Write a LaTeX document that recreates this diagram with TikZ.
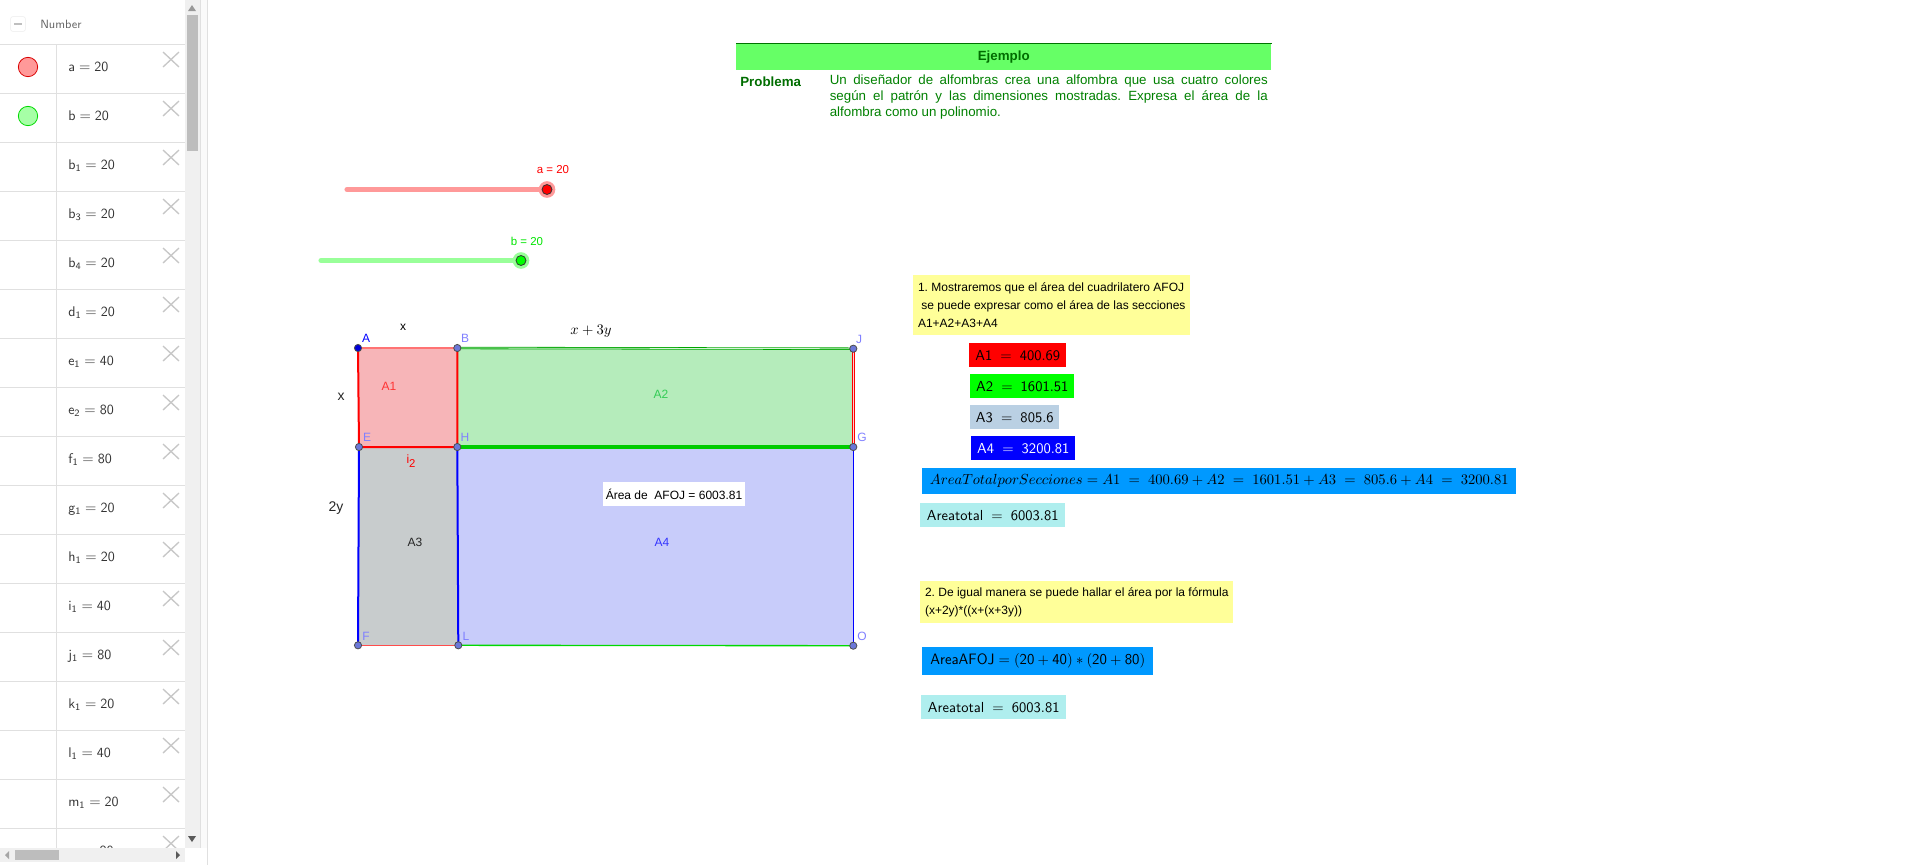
\documentclass[tikz,border=0pt]{standalone}
\usepackage{amsmath,amssymb}
\usepackage{fontspec}
\usepackage{tikz}
\usetikzlibrary{calc}
\newfontfamily\arialfont{Liberation Sans}
\newcommand{\sfeq}[2]{$\mathsf{#1}\;=\;\mathsf{#2}$}
\definecolor{bandgreen}{HTML}{66FF66}
\definecolor{textgreen}{HTML}{008000}
\definecolor{notecol}{HTML}{FFFF99}
\definecolor{skycol}{HTML}{0099FF}
\definecolor{palecol}{HTML}{AFEEEE}
\definecolor{rowline}{HTML}{E0E0E0}
\definecolor{fillone}{HTML}{F7B5B8}
\definecolor{filltwo}{HTML}{B5ECBB}
\definecolor{fillthree}{HTML}{C8CCCD}
\definecolor{fillfour}{HTML}{C8CCFA}
\definecolor{ptcol}{HTML}{6C78D8}
\definecolor{areagreen}{HTML}{33CC55}
\tikzset{
	pt/.style = {circle, draw=black!70, fill=ptcol, line width=0.6pt, minimum size=5.4pt, inner sep=0pt},
	ptname/.style = {font=\arialfont\fontsize{9}{11}\selectfont, text=blue!50!white, inner sep=0pt},
	geotext/.style = {font=\arialfont\fontsize{9}{11}\selectfont, inner sep=0pt},
	rowtext/.style = {font=\sffamily\fontsize{10.5}{12}\selectfont, text=black!80, anchor=base west, inner sep=0pt},
	valbox/.style 2 args = {minimum width=#1*0.75pt, minimum height=#2*0.75pt, anchor=north west, inner sep=0pt, font=\sffamily\fontsize{10.9}{13}\selectfont},
	notebox/.style = {align=left, font=\arialfont\frenchspacing\fontsize{9}{13.5}\selectfont},
	cross/.style = {draw=black!22, line width=1pt},
	slider/.style = {line width=3.8pt, line cap=round}
}
\begin{document}
\begin{tikzpicture}[x=0.75pt, y=-0.75pt]
	\useasboundingbox (0,0) rectangle (1910,865);
	% left panel
	\fill[black!6] (185,0) rectangle (200,848);
	\fill[black!2] (200,0) rectangle (207,865);
	\draw[rowline] (200,0) -- (200,865) (207,0) -- (207,865);
	\node[draw=black!8, rounded corners=1.5pt, minimum size=11pt, inner sep=0pt] (minusbox) at (18,24) {};
	\draw[black!25, line width=1pt] ($(minusbox)+(-4,0)$) -- ($(minusbox)+(4,0)$);
	\node[font=\sffamily\fontsize{9}{11}\selectfont, text=black!60, anchor=west, inner sep=0pt] (numberhead) at (40,24) {Number};
	\foreach \name/\val [count=\i from 0] in {a/20,b/20,b_1/20,b_3/20,b_4/20,d_1/20,e_1/40,e_2/80,f_1/80,g_1/20,h_1/20,i_1/40,j_1/80,k_1/20,l_1/40,m_1/20}{
		\draw[rowline] (0,44+49*\i) -- (185,44+49*\i);
		\draw[rowline] (56.5,44+49*\i) -- (56.5,93+49*\i);
		\node[rowtext] (row\i) at (68,71+49*\i) {$\mathsf{\name} = \mathsf{\val}$};
		\draw[cross] (163,52+49*\i) -- (179,67+49*\i) (179,52+49*\i) -- (163,67+49*\i);
	}
	\draw[rowline] (0,828) -- (185,828) (56.5,828) -- (56.5,848);
	\node[rowtext] (rowlast) at (84,855) {$=\mathsf{80}$};
	\draw[cross] (163,836) -- (179,851) (179,836) -- (163,851);
	\node[circle, draw=red!85!black, fill=red!40, line width=0.6pt, minimum size=14.5pt, inner sep=0pt] (dota) at (28,67) {};
	\node[circle, draw=green!85!black, fill=green!35, line width=0.6pt, minimum size=14.5pt, inner sep=0pt] (dotb) at (28,116) {};
	% scroll bars
	\fill[white] (0,848) rectangle (207,865);
	\fill[black!6] (0,848) rectangle (185,862);
	\fill[black!26] (187,15) rectangle (198,151);
	\fill[black!26] (15,850) rectangle (59,860);
	\fill[black!40] (188,11) -- (196,11) -- (192,5) -- cycle;
	\fill[black!65] (188,836) -- (196,836) -- (192,842) -- cycle;
	\fill[black!35] (9,851) -- (9,859) -- (5,855) -- cycle;
	\fill[black!65] (176,851) -- (176,859) -- (180,855) -- cycle;
	% problem
	\node[fill=bandgreen, minimum width=535*0.75pt, minimum height=26*0.75pt, anchor=north west, inner sep=0pt, text=textgreen!85!black, font=\arialfont\bfseries\fontsize{10}{12}\selectfont] (band) at (736,43.5) {Ejemplo};
	\draw[green!45!black, line width=0.8pt] (band.north west) -- (band.north east);
	\node[anchor=base west, inner sep=0pt, text=textgreen!85!black, font=\arialfont\bfseries\fontsize{10}{12}\selectfont] (problema) at (740,86) {Problema};
	\node[anchor=north west, inner sep=0pt, text width=438*0.75pt, align=justify, text=textgreen, font=\arialfont\frenchspacing\fontsize{10}{11.7}\selectfont] (enunciado) at (829.5,75) {Un diseñador de alfombras crea una alfombra que usa cuatro colores\linebreak según el patrón y las dimensiones mostradas. Expresa el área de la\linebreak alfombra como un polinomio.};
	% sliders
	\coordinate (astart) at (347,189.5);
	\coordinate (aend) at (547,189.5);
	\coordinate (bstart) at (321,260.5);
	\coordinate (bend) at (521,260.5);
	\draw[slider, red!40] (astart) -- (aend);
	\draw[slider, green!40] (bstart) -- (bend);
	\node[circle, fill=red!40, minimum size=12.5pt, inner sep=0pt] (ahalo) at (aend) {};
	\node[circle, draw=black!80, fill=red, line width=0.6pt, minimum size=7.5pt, inner sep=0pt] (ahandle) at (aend) {};
	\node[circle, fill=green!40, minimum size=12.5pt, inner sep=0pt] (bhalo) at (bend) {};
	\node[circle, draw=black!80, fill=green, line width=0.6pt, minimum size=7.5pt, inner sep=0pt] (bhandle) at (bend) {};
	\node[geotext, text=red, font=\arialfont\fontsize{8.6}{10}\selectfont] (alabel) at (553,170) {a = 20};
	\node[geotext, text=green!90!black, font=\arialfont\fontsize{8.6}{10}\selectfont] (blabel) at (527,241) {b = 20};
	% rectangle
	\coordinate (A) at (358,348);
	\coordinate (B) at (457.3,348);
	\coordinate (J) at (853.3,348.7);
	\coordinate (E) at (359,447);
	\coordinate (H) at (457.3,447);
	\coordinate (G) at (853.3,447);
	\coordinate (F) at (358,645.3);
	\coordinate (L) at (458.3,645.3);
	\coordinate (O) at (853.3,645.7);
	\fill[fillone] (A) -- (B) -- (H) -- (E) -- cycle;
	\fill[filltwo] (B) -- (J) -- (G) -- (H) -- cycle;
	\fill[fillthree] (E) -- (H) -- (L) -- (F) -- cycle;
	\fill[fillfour] (H) -- (G) -- (O) -- (L) -- cycle;
	\draw[red!55, line width=0.8pt] (A) -- (B);
	\draw[red, line width=1.5pt] (A) -- (E) (B) -- (H) (E) -- (H);
	\draw[green!65!black, line width=0.6pt, double=filltwo!60!white, double distance=0.6pt] (B) -- (J);
	\draw[green!80!black, line width=2.6pt] (H) -- (G);
	\draw[red, line width=0.6pt, double=fillone!60!white, double distance=0.6pt] (J) -- (G);
	\draw[blue, line width=1.5pt] (E) -- (F) (H) -- (L);
	\draw[blue, line width=1pt] (G) -- (O);
	\draw[red!70, line width=0.8pt] (F) -- (L);
	\draw[green!85!black, line width=1pt] (L) -- (O);
	\node[pt, fill=blue!85!black] (ptA) at (A) {};
	\foreach \p in {B,J,E,H,G,F,L,O}{
		\node[pt] (pt\p) at (\p) {};
	}
	\node[ptname, text=blue] (labA) at (366,338) {A};
	\node[ptname] (labB) at (465,338) {B};
	\node[ptname] (labJ) at (859,339) {J};
	\node[ptname] (labE) at (367,437) {E};
	\node[ptname] (labH) at (465,437) {H};
	\node[ptname] (labG) at (862,437) {G};
	\node[ptname] (labF) at (366,636) {F};
	\node[ptname] (labL) at (466,636) {L};
	\node[ptname] (labO) at (862,636) {O};
	\node[geotext, text=red!80!white] (areaone) at (389,386) {A1};
	\node[geotext, text=areagreen] (areatwo) at (661,394) {A2};
	\node[geotext, text=black!85] (areathree) at (415,542) {A3};
	\node[geotext, text=blue!80!white] (areafour) at (662,542) {A4};
	\node[geotext, text=red] (itwo) at (411,461) {i\raisebox{-2.5pt}{\fontsize{8.5}{10}\selectfont 2}};
	\node[geotext] (xtop) at (403,327) {x};
	\node[geotext, text=black!85, font=\arialfont\fontsize{10.5}{12}\selectfont] (xleft) at (341,397) {x};
	\node[geotext, text=black!85, font=\arialfont\fontsize{10.5}{12}\selectfont] (ylabel) at (336,508) {2y};
	\node[inner sep=0pt, font=\fontsize{10.5}{12}\selectfont] (sumlabel) at (591,331) {$x + 3y$};
	\node[fill=white, minimum width=142*0.75pt, minimum height=24*0.75pt, inner sep=0pt, geotext] (areabox) at (674,494) {Área de\ \ AFOJ = 6003.81};
	% right column
	\node[valbox={277}{60}, fill=notecol, notebox] (noteone) at (913,275) {1. Mostraremos que el área del cuadrilatero AFOJ\\ \ se puede expresar como el área de las secciones\\A1+A2+A3+A4};
	\node[valbox={97}{24}, fill=red] (aone) at (969,343) {\sfeq{A1}{400.69}};
	\node[valbox={104}{24}, fill=green] (atwo) at (970,374) {\sfeq{A2}{1601.51}};
	\node[valbox={89}{24}, fill={rgb,255:red,186;green,208;blue,227}] (athree) at (970,405) {\sfeq{A3}{805.6}};
	\node[valbox={104}{24}, fill=blue, text=white] (afour) at (971,436) {\sfeq{A4}{3200.81}};
	\node[valbox={594}{26}, fill=skycol, font=\fontsize{10.9}{13}\selectfont] (totalsec) at (922,468) {$AreaTotalporSecciones = A1 \;=\; 400.69 + A2 \;=\; 1601.51 + A3 \;=\; 805.6 + A4 \;=\; 3200.81$};
	\node[valbox={145}{24}, fill=palecol] (totalone) at (920,503) {\sfeq{Areatotal}{6003.81}};
	\node[valbox={313}{42}, fill=notecol, notebox] (notetwo) at (920,581) {2. De igual manera se puede hallar el área por la fórmula\\(x+2y)*((x+(x+3y))};
	\node[valbox={231}{28}, fill=skycol, font=\sffamily\fontsize{11.3}{13}\selectfont] (afoj) at (922,647) {$\mathsf{AreaAFOJ} = (\mathsf{20} + \mathsf{40}) * (\mathsf{20} + \mathsf{80})$};
	\node[valbox={145}{24}, fill=palecol] (totaltwo) at (921,695) {\sfeq{Areatotal}{6003.81}};
\end{tikzpicture}
\end{document}
